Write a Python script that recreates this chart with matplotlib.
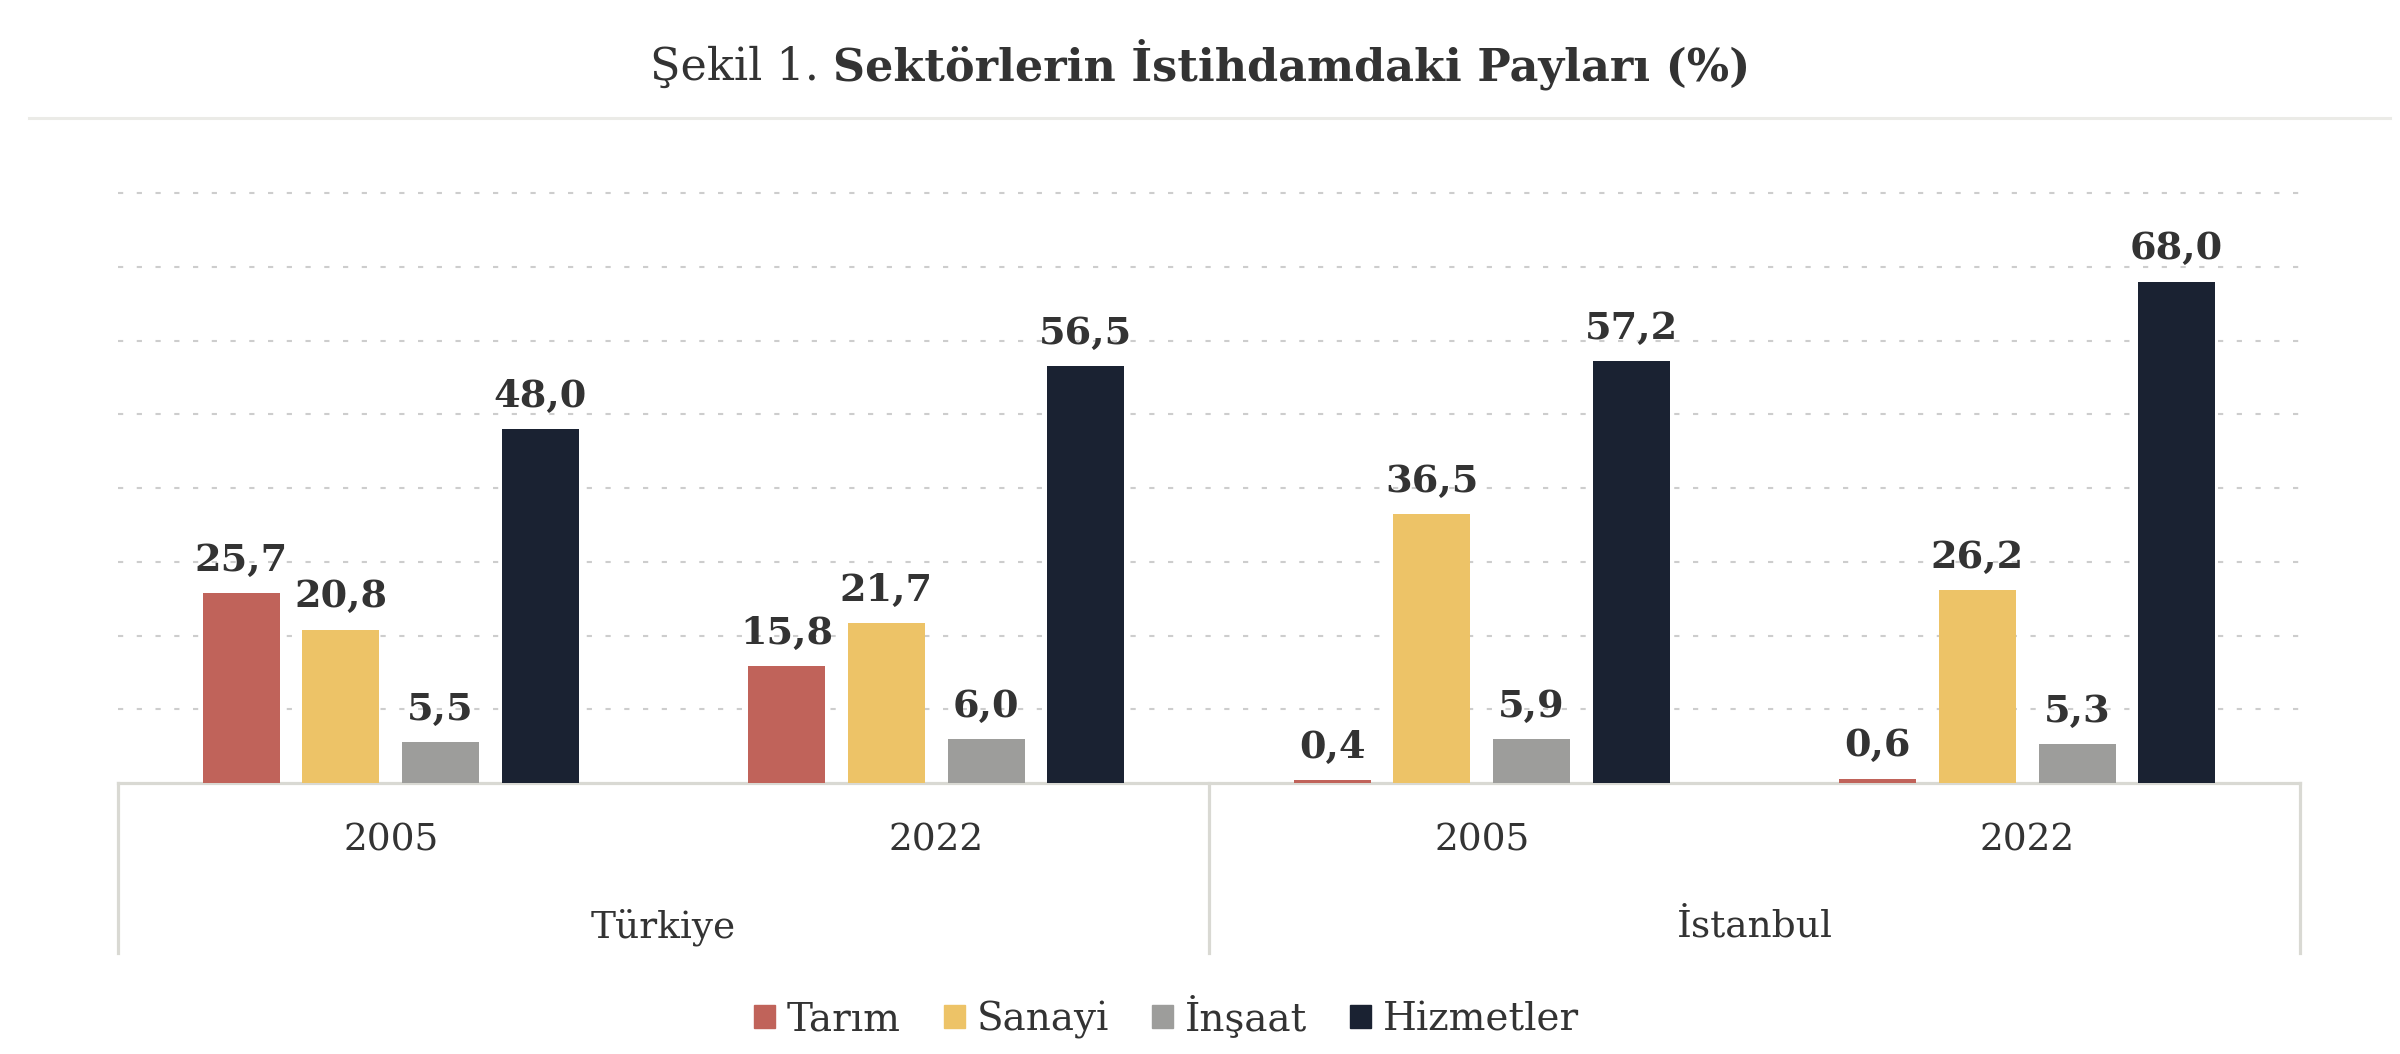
import numpy as np
import matplotlib
matplotlib.use("Agg")
import matplotlib.pyplot as plt
from matplotlib.transforms import blended_transform_factory
from matplotlib.patches import Patch

# DATA
groups = ["Türkiye", "İstanbul"]
years = ["2005", "2022", "2005", "2022"]
sectors = ["Tarım", "Sanayi", "İnşaat", "Hizmetler"]
tarim = [25.7, 15.8, 0.4, 0.6]
sanayi = [20.8, 21.7, 36.5, 26.2]
insaat = [5.5, 6.0, 5.9, 5.3]
hizmetler = [48.0, 56.5, 57.2, 68.0]
colors = ["#C0635A", "#EDC367", "#9D9D9B", "#1A2232"]

TXT = "#333333"
LINE = "#d9d9d3"
plt.rcParams["font.family"] = ["DejaVu Serif"]

W, H = 2400, 1054
fig = plt.figure(figsize=(W / 100, H / 100), dpi=100)
ax = fig.add_axes([118 / W, 1 - 783 / H, (2300 - 118) / W, (783 - 193) / H])

x = np.arange(len(years))
step = 0.1826
width = 0.141
series = [tarim, sanayi, insaat, hizmetler]
for i, (vals, c) in enumerate(zip(series, colors)):
    pos = x + (i - 1.5) * step
    ax.bar(pos, vals, width=width, color=c, zorder=3, label=sectors[i])
    for px, v in zip(pos, vals):
        ax.annotate(f"{v:.1f}".replace(".", ","), (px, v), xytext=(0, 16),
                    textcoords="offset points", ha="center", va="baseline",
                    fontsize=27.5, fontweight="bold", color=TXT, zorder=4)

ax.set_xlim(-0.5, 3.5)
ax.set_ylim(0, 80)
for gy in range(10, 90, 10):
    ax.axhline(gy, color="#cdcdcd", lw=1.5, dashes=(2.5, 6.5), zorder=1, clip_on=False)
ax.axhline(0, color=LINE, lw=2.3, zorder=2, clip_on=False)
for s in ax.spines.values():
    s.set_visible(False)
ax.set_xticks([])
ax.set_yticks([])

# two-level category axis
trans = blended_transform_factory(ax.transData, ax.transAxes)
for sx in [-0.5, 1.5, 3.5]:
    ax.plot([sx, sx], [0, -0.288], color=LINE, lw=2.3, transform=trans, clip_on=False)
for xi, yr in zip(x, years):
    ax.text(xi, -0.097, yr, transform=trans, ha="center", va="center",
            fontsize=27, color=TXT)
for gi, g in enumerate(groups):
    ax.text(0.5 + 2 * gi, -0.244, g, transform=trans, ha="center", va="center",
            fontsize=27, color=TXT)

# title, regular part + bold part
ty = 1 - 80 / H
t1 = fig.text(0, ty, "Şekil 1. ", fontsize=32, color=TXT, va="baseline")
t2 = fig.text(0, ty, "Sektörlerin İstihdamdaki Payları (%)", fontsize=32,
              fontweight="bold", color=TXT, va="baseline")
r = fig.canvas.get_renderer()
w1 = t1.get_window_extent(r).width / W
w2 = t2.get_window_extent(r).width / W
x0 = 0.5 - (w1 + w2) / 2
t1.set_x(x0)
t2.set_x(x0 + w1)

fig.add_artist(plt.Line2D([29 / W, 2390 / W], [1 - 118 / H] * 2, color="#ebebe7", lw=2.2))

handles = [Patch(color=c) for c in colors]
fig.legend(handles, sectors, loc="center", bbox_to_anchor=(0.486, 1 - 1017 / H),
           ncol=4, frameon=False, fontsize=28, handlelength=0.55, handleheight=0.55,
           handletextpad=0.3, columnspacing=1.1, borderpad=0, borderaxespad=0,
           labelcolor=TXT)

fig.savefig("out.png", dpi=100)
